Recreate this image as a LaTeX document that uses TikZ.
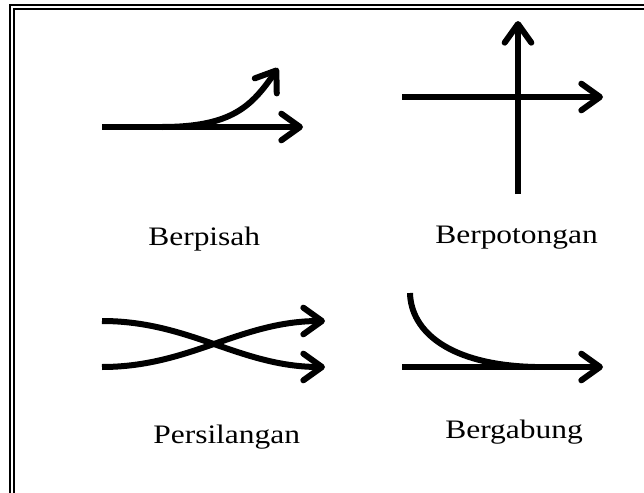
\documentclass[tikz,border=0pt]{standalone}
\usepackage{fontspec}
\setmainfont{Liberation Serif}
\usetikzlibrary{arrows.meta}
\tikzset{
    flowarrow/.style={line width=4.5pt, -{Straight Barb[length=14pt,width=20pt,round]}},
    flowline/.style ={line width=4.5pt},
    framerule/.style={line width=1.5pt},
    caption/.style  ={font=\fontsize{20}{22}\selectfont, anchor=base west, inner sep=0pt, xscale=1.18},
}
\begin{document}
\begin{tikzpicture}[x=0.75pt, y=-0.75pt]
    \useasboundingbox (0,0) rectangle (644,493);
    % frame
    \draw[framerule] (10,493) -- (10,5) -- (644,5);
    \draw[framerule] (14,493) -- (14,9) -- (644,9);
    % berpisah
    \coordinate (pisahA) at (102,127);
    \coordinate (pisahB) at (303,127);
    \coordinate (pisahC) at (162,127);
    \coordinate (pisahD) at (278,68);
    \draw[flowarrow] (pisahA) -- (pisahB);
    \draw[flowarrow] (pisahC) .. controls (232,127) and (252,106) .. (pisahD);
    \node[caption] (lblPisah) at (148,245) {Berpisah};
    % berpotongan
    \coordinate (potongA) at (402,97);
    \coordinate (potongB) at (603,97);
    \coordinate (potongC) at (518,194);
    \coordinate (potongD) at (518,21);
    \draw[flowarrow] (potongA) -- (potongB);
    \draw[flowarrow] (potongC) -- (potongD);
    \node[caption] (lblPotong) at (435,243) {Berpotongan};
    % persilangan
    \coordinate (silangA) at (102,321);
    \coordinate (silangB) at (325,367);
    \coordinate (silangC) at (102,367);
    \coordinate (silangD) at (325,321);
    \draw[flowarrow] (silangA) .. controls (190,321) and (240,367) .. (silangB);
    \draw[flowarrow] (silangC) .. controls (190,367) and (240,321) .. (silangD);
    \node[caption] (lblSilang) at (153,443) {Persilangan};
    % bergabung
    \coordinate (gabungA) at (402,367);
    \coordinate (gabungB) at (603,367);
    \coordinate (gabungC) at (410,293);
    \coordinate (gabungD) at (535,367);
    \draw[flowarrow] (gabungA) -- (gabungB);
    \draw[flowline] (gabungC) .. controls (411,332) and (450,365) .. (gabungD);
    \node[caption] (lblGabung) at (445,438) {Bergabung};
\end{tikzpicture}
\end{document}
